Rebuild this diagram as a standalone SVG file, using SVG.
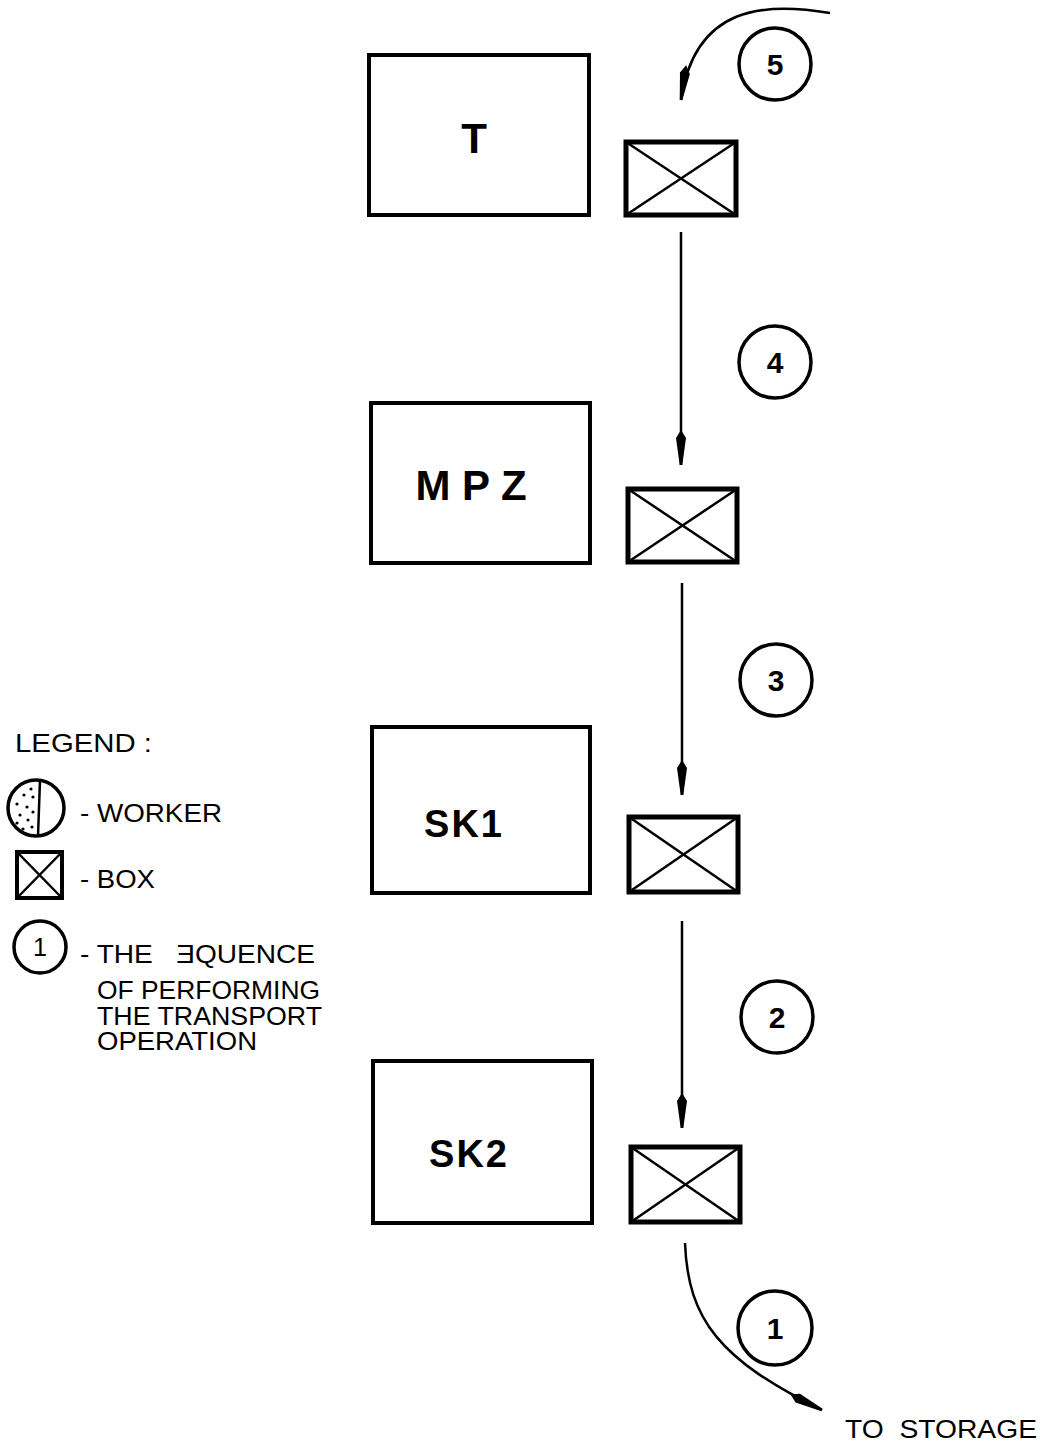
<svg xmlns="http://www.w3.org/2000/svg" width="1040" height="1444" viewBox="0 0 1040 1444">
<style>
.big{fill:none;stroke:#000;stroke-width:4}
.sbox{fill:none;stroke:#000;stroke-width:5}
.diag{stroke:#000;stroke-width:2.5}
.circ{fill:none;stroke:#000;stroke-width:3.5}
.lbl{font-family:"Liberation Sans",Arial,sans-serif;font-weight:bold;fill:#000;text-anchor:middle}
.num{font-family:"Liberation Sans",Arial,sans-serif;font-weight:bold;font-size:30px;fill:#000;text-anchor:middle}
.leg{font-family:"Liberation Sans",Arial,sans-serif;font-size:25px;fill:#000}
.conn{fill:none;stroke:#000;stroke-width:2.5}
</style>
<defs>
<marker id="spear" markerUnits="userSpaceOnUse" viewBox="0 -6 36 12" refX="35" refY="0" markerWidth="36" markerHeight="12" orient="auto">
<path d="M0,0 L8,-5 L35,-1.3 L35,1.3 L8,5 Z" fill="#000"/>
</marker>
</defs>
<rect width="1040" height="1444" fill="#fff"/>

<g id="node-T">
<rect class="big" x="369" y="55" width="220" height="160"/>
<text class="lbl" x="474" y="153" font-size="42">T</text>
</g>
<g id="box-T">
<rect class="sbox" x="626" y="142" width="110" height="73"/>
<line class="diag" x1="626" y1="142" x2="736" y2="215"/>
<line class="diag" x1="736" y1="142" x2="626" y2="215"/>
</g>

<g id="node-MPZ">
<rect class="big" x="371" y="403" width="219" height="160"/>
<text class="lbl" x="471" y="500" font-size="42">M P Z</text>
</g>
<g id="box-MPZ">
<rect class="sbox" x="628" y="489" width="109" height="73"/>
<line class="diag" x1="628" y1="489" x2="737" y2="562"/>
<line class="diag" x1="737" y1="489" x2="628" y2="562"/>
</g>

<g id="node-SK1">
<rect class="big" x="372" y="727" width="218" height="166"/>
<text class="lbl" x="464" y="837" font-size="38" letter-spacing="2">SK1</text>
</g>
<g id="box-SK1">
<rect class="sbox" x="629" y="817" width="109" height="75"/>
<line class="diag" x1="629" y1="817" x2="738" y2="892"/>
<line class="diag" x1="738" y1="817" x2="629" y2="892"/>
</g>

<g id="node-SK2">
<rect class="big" x="373" y="1061" width="219" height="162"/>
<text class="lbl" x="469" y="1167" font-size="38" letter-spacing="2">SK2</text>
</g>
<g id="box-SK2">
<rect class="sbox" x="631" y="1147" width="109" height="75"/>
<line class="diag" x1="631" y1="1147" x2="740" y2="1222"/>
<line class="diag" x1="740" y1="1147" x2="631" y2="1222"/>
</g>

<g id="step-5"><circle class="circ" cx="775" cy="64" r="36"/><text class="num" x="775" y="75">5</text></g>
<g id="step-4"><circle class="circ" cx="775" cy="362" r="36"/><text class="num" x="775" y="373">4</text></g>
<g id="step-3"><circle class="circ" cx="776" cy="680" r="36"/><text class="num" x="776" y="691">3</text></g>
<g id="step-2"><circle class="circ" cx="777" cy="1017" r="36"/><text class="num" x="777" y="1028">2</text></g>
<g id="step-1"><circle class="circ" cx="775" cy="1328" r="37"/><text class="num" x="775" y="1339">1</text></g>

<g id="connectors">
<path class="conn" d="M830,13 C765,2 695,5 681,100" marker-end="url(#spear)"/>
<line class="conn" x1="681" y1="232" x2="681" y2="465" marker-end="url(#spear)"/>
<line class="conn" x1="682" y1="583" x2="682" y2="795" marker-end="url(#spear)"/>
<line class="conn" x1="682" y1="921" x2="682" y2="1128" marker-end="url(#spear)"/>
<path class="conn" d="M685,1243 C688,1320 720,1360 822,1410" marker-end="url(#spear)"/>
</g>

<g id="to-storage">
<text class="leg" x="845" y="1438" font-size="28" textLength="192" lengthAdjust="spacingAndGlyphs" xml:space="preserve">TO  STORAGE</text>
</g>

<g id="legend">
<text class="leg" x="15" y="752" font-size="25" textLength="137" lengthAdjust="spacingAndGlyphs">LEGEND :</text>
<g id="legend-worker">
<circle class="circ" cx="36" cy="808" r="28"/>
<line stroke="#000" stroke-width="2.5" x1="40" y1="780" x2="38" y2="836"/>
<g fill="#000">
<circle cx="31" cy="789" r="1.6"/><circle cx="24" cy="795" r="1.6"/><circle cx="33" cy="797" r="1.6"/>
<circle cx="17" cy="804" r="1.6"/><circle cx="27" cy="807" r="1.6"/><circle cx="33" cy="812" r="1.6"/>
<circle cx="20" cy="815" r="1.6"/><circle cx="28" cy="820" r="1.6"/><circle cx="17" cy="823" r="1.6"/>
<circle cx="32" cy="827" r="1.6"/><circle cx="23" cy="829" r="1.6"/>
</g>
<text class="leg" x="80" y="822" textLength="142" lengthAdjust="spacingAndGlyphs">- WORKER</text>
</g>
<g id="legend-box">
<rect fill="none" stroke="#000" stroke-width="4" x="17" y="852" width="45" height="46"/>
<line class="diag" x1="17" y1="852" x2="62" y2="898"/>
<line class="diag" x1="62" y1="852" x2="17" y2="898"/>
<text class="leg" x="80" y="888" textLength="75" lengthAdjust="spacingAndGlyphs">- BOX</text>
</g>
<g id="legend-seq">
<circle class="circ" cx="40" cy="947" r="26"/>
<text class="leg" x="40" y="956" text-anchor="middle" font-size="24">1</text>
<text class="leg" x="80" y="963" font-size="22" textLength="235" lengthAdjust="spacingAndGlyphs" xml:space="preserve">- THE   ƎQUENCE</text>
<text class="leg" x="97" y="999" font-size="20" textLength="223" lengthAdjust="spacingAndGlyphs">OF PERFORMING</text>
<text class="leg" x="97" y="1024.5" font-size="20" textLength="225" lengthAdjust="spacingAndGlyphs">THE TRANSPORT</text>
<text class="leg" x="97" y="1050" font-size="20" textLength="160" lengthAdjust="spacingAndGlyphs">OPERATION</text>
</g>
</g>
</svg>
